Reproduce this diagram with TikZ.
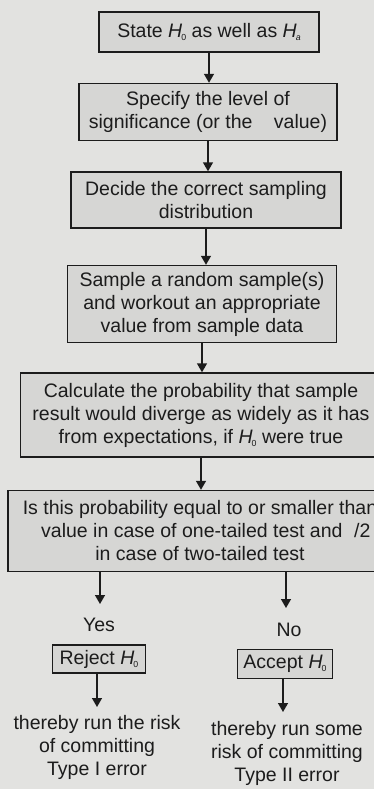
\documentclass[tikz,border=0pt]{standalone}
\usepackage{fontspec}
\setmainfont{Liberation Sans}
\usetikzlibrary{arrows.meta}
\definecolor{bgcol}{RGB}{226,226,224}
\definecolor{boxfill}{RGB}{214,214,212}
\definecolor{inkcol}{RGB}{28,28,28}
\newcommand{\Hnull}{\textit{H}\kern-0.05em\raisebox{-0.3ex}{\scalebox{0.45}{0}}}
\newcommand{\Halt}{\textit{H}\kern-0.05em\raisebox{-0.3ex}{\scalebox{0.45}{\textit{a}}}}
\begin{document}
\begin{tikzpicture}[x=1pt,y=-1pt,
  every node/.style={font=\fontsize{19.5}{23}\selectfont, text=inkcol},
  stepbox/.style={draw=inkcol, line width=1.4pt, fill=boxfill, align=center, inner sep=0pt},
  plaintext/.style={align=center, inner sep=0pt},
  flowarrow/.style={draw=inkcol, line width=1.4pt, -{Triangle[width=10pt,length=9pt]}}]
\path[use as bounding box] (0,0) rectangle (374,789);
\fill[bgcol] (0,0) rectangle (374,789);
\begin{scope}
\clip (0,0) rectangle (374,789);
\node[stepbox, minimum width=220pt, minimum height=40pt] (b1) at (209,32) {State \Hnull\ as well as \Halt};
\node[stepbox, minimum width=258pt, minimum height=57pt] (b2) at (208,112) {Specify the level of\\significance (or the\hspace{1.1em}value)};
\node[stepbox, minimum width=270pt, minimum height=56pt] (b3) at (206,200) {Decide the correct sampling\\distribution};
\node[stepbox, minimum width=269pt, minimum height=77pt] (b4) at (202,304) {Sample a random sample(s)\\and workout an appropriate\\value from sample data};
\node[stepbox, minimum width=361pt, minimum height=84pt] (b5) at (201,415) {Calculate the probability that sample\\result would diverge as widely as it has\\from expectations, if \Hnull\ were true};
\node[stepbox, minimum width=384pt, minimum height=81pt] (b6) at (200,531) {Is this probability equal to or smaller than\\\hspace{0.6em}value in case of one-tailed test and\hspace{0.6em}/2\\in case of two-tailed test};
\end{scope}
\node[plaintext] (yes) at (99,625) {Yes};
\node[plaintext] (no) at (289,630) {No};
\node[stepbox, minimum width=93pt, minimum height=28pt] (rej) at (99,659) {Reject \Hnull};
\node[stepbox, minimum width=95pt, minimum height=29pt] (acc) at (285,664) {Accept \Hnull};
\node[plaintext] (t1) at (97,747) {thereby run the risk\\of committing\\Type I error};
\node[plaintext] (t2) at (287,753) {thereby run some\\risk of committing\\Type II error};
\coordinate (yesIn) at (100,604);
\coordinate (noIn) at (286,608);
\coordinate (t1In) at (97,707);
\coordinate (t2In) at (283,712);
\draw[flowarrow] (b1.south) -- (b1.south |- b2.north);
\draw[flowarrow] (b2.south) -- (b2.south |- b3.north);
\draw[flowarrow] (b3.south) -- (b3.south |- b4.north);
\draw[flowarrow] (b4.south) -- (b4.south |- b5.north);
\draw[flowarrow] (b5.south) -- (b5.south |- b6.north);
\draw[flowarrow] (b6.south -| yesIn) -- (yesIn);
\draw[flowarrow] (b6.south -| noIn) -- (noIn);
\draw[flowarrow] (rej.south -| t1In) -- (t1In);
\draw[flowarrow] (acc.south -| t2In) -- (t2In);
\end{tikzpicture}
\end{document}
